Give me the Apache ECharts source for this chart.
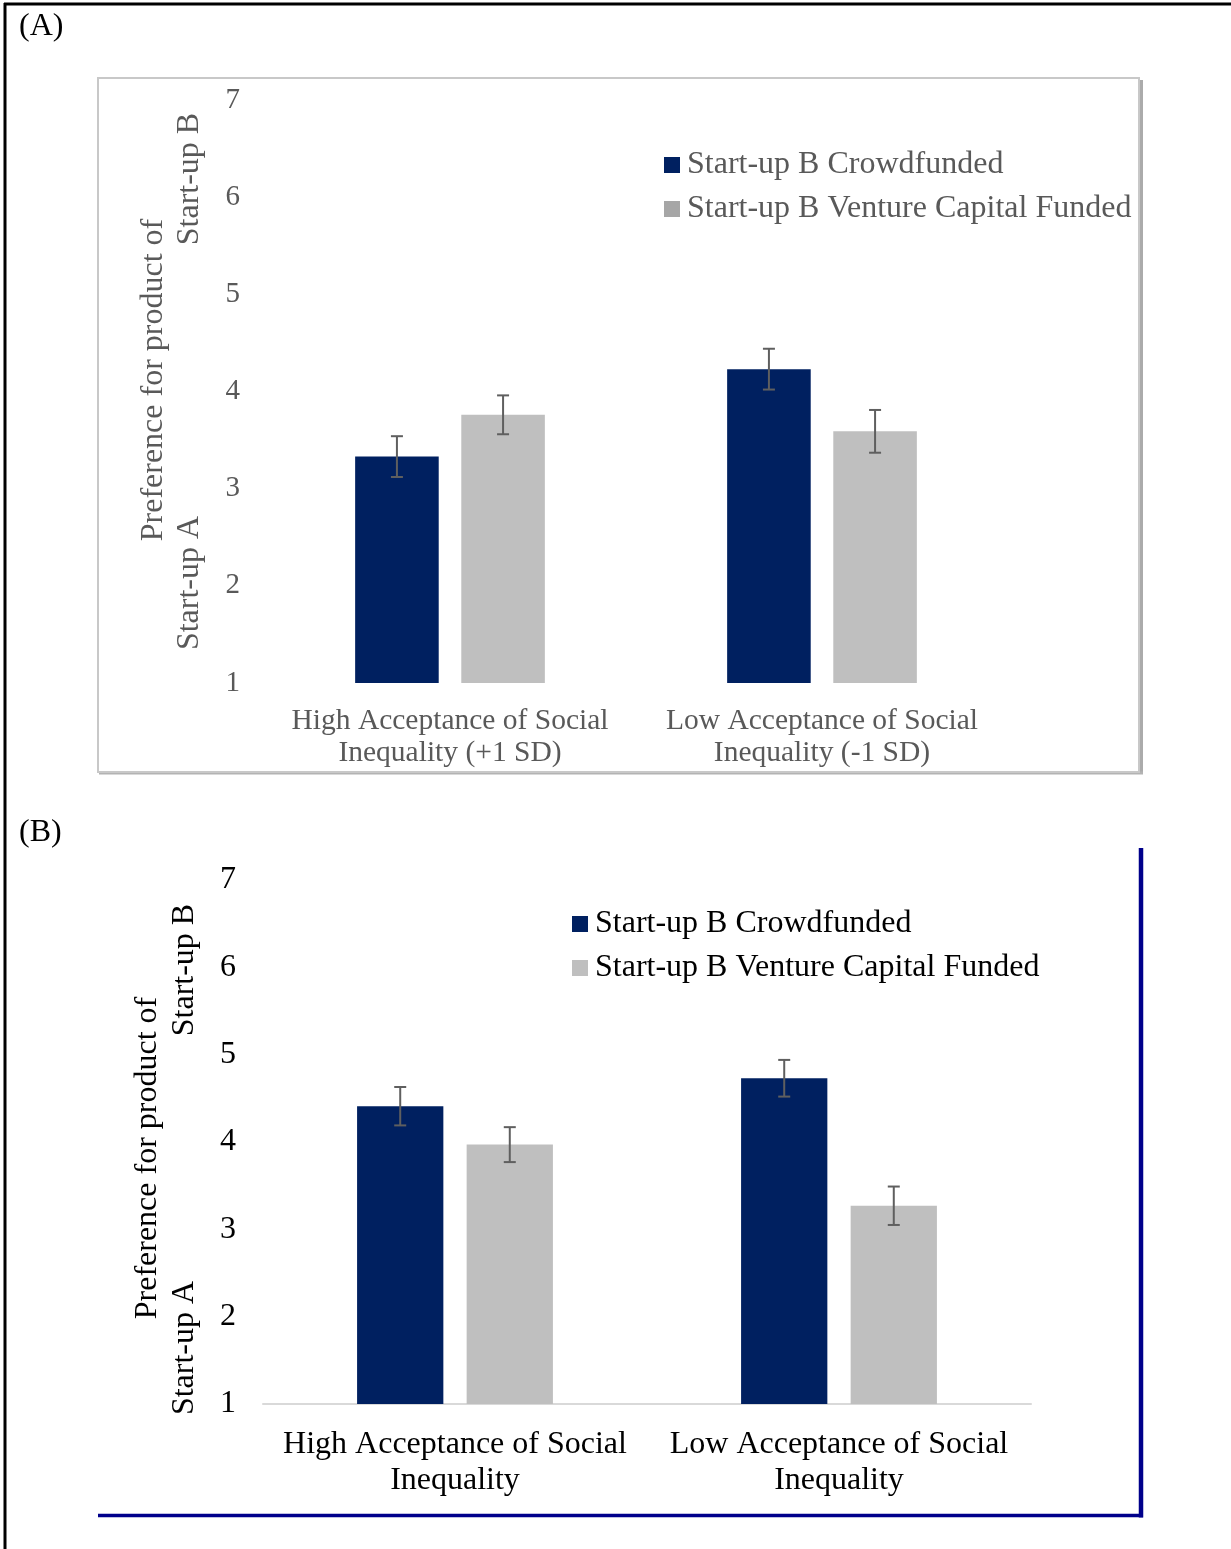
<!DOCTYPE html>
<html>
<head>
<meta charset="utf-8">
<script src="https://cdn.jsdelivr.net/npm/echarts@6/dist/echarts.min.js"></script>
<style>
  html, body { margin: 0; padding: 0; background: #fff; }
  #chart { width: 1231px; height: 1549px; }
</style>
</head>
<body>
<div id="chart"></div>
<script>
// ---- data ----
const seriesNames = ['Start-up B Crowdfunded', 'Start-up B Venture Capital Funded'];
const categoriesA = ['High Acceptance of Social\nInequality (+1 SD)', 'Low Acceptance of Social\nInequality (-1 SD)'];
const categoriesB = ['High Acceptance of Social\nInequality', 'Low Acceptance of Social\nInequality'];
const crowdA = [3.33, 4.23];
const vcA = [3.76, 3.59];
const crowdErrA = [0.21, 0.21];
const vcErrA = [0.20, 0.22];
const crowdB = [4.41, 4.73];
const vcB = [3.97, 3.27];
const crowdErrB = [0.22, 0.21];
const vcErrB = [0.20, 0.22];
const yMin = 1, yMax = 7, yStep = 1;

// ---- styling ----
const FONT = '"Liberation Serif", "Times New Roman", serif';
const NAVY = '#002060';
const GRAY = '#bfbfbf';
const CAT_GAP = 0.49;   // share of the band left empty
const BAR_GAP = 0.27;   // gap between the two bars, relative to bar width

function errRows(means, errs) {
  return means.map((m, i) => [i, m - errs[i], m + errs[i]]);
}

// Whisker drawn at the centre of the matching bar in its group
function errorRenderer(side) {
  return function (params, api) {
    const cat = api.value(0);
    const lo = api.coord([cat, api.value(1)]);
    const hi = api.coord([cat, api.value(2)]);
    const band = api.size([1, 0])[0];
    const barW = band * (1 - CAT_GAP) / (2 + BAR_GAP);
    const x = lo[0] + side * barW * (1 + BAR_GAP) / 2;
    const cap = 6;
    const st = { stroke: '#5f5f5f', lineWidth: 2 };
    return {
      type: 'group',
      children: [
        { type: 'line', shape: { x1: x, y1: hi[1], x2: x, y2: lo[1] }, style: st },
        { type: 'line', shape: { x1: x - cap, y1: hi[1], x2: x + cap, y2: hi[1] }, style: st },
        { type: 'line', shape: { x1: x - cap, y1: lo[1], x2: x + cap, y2: lo[1] }, style: st }
      ]
    };
  };
}

function barSeries(name, data, color, idx) {
  return {
    type: 'bar', name: name, data: data, xAxisIndex: idx, yAxisIndex: idx,
    barGap: (BAR_GAP * 100) + '%', barCategoryGap: (CAT_GAP * 100) + '%',
    itemStyle: { color: color }, clip: true, silent: true
  };
}

function errSeries(rows, side, idx) {
  return {
    type: 'custom', xAxisIndex: idx, yAxisIndex: idx, data: rows,
    encode: { x: 0, y: [1, 2] }, renderItem: errorRenderer(side), silent: true, z: 5
  };
}

function vText(text, x, y, size, color) {
  return {
    type: 'text', x: x, y: y, rotation: Math.PI / 2,
    style: { text: text, font: size + 'px ' + FONT, fill: color, align: 'center', verticalAlign: 'middle' }
  };
}

function hText(text, x, y, size, color) {
  return {
    type: 'text', x: x, y: y,
    style: { text: text, font: size + 'px ' + FONT, fill: color, align: 'left', verticalAlign: 'middle' }
  };
}

const chart = echarts.init(document.getElementById('chart'), null, { renderer: 'canvas' });

chart.setOption({
  animation: false,
  backgroundColor: '#ffffff',
  grid: [
    { left: 264, top: 100, width: 744, height: 583 },
    { left: 263, top: 880, width: 768, height: 524 }
  ],
  xAxis: [
    {
      type: 'category', gridIndex: 0, data: categoriesA,
      axisLine: { show: false }, axisTick: { show: false },
      axisLabel: { interval: 0, fontFamily: FONT, fontSize: 29.5, color: '#595959', lineHeight: 32, margin: 22 }
    },
    {
      type: 'category', gridIndex: 1, data: categoriesB,
      axisLine: { show: true, lineStyle: { color: '#d9d9d9', width: 2 } }, axisTick: { show: false },
      axisLabel: { interval: 0, fontFamily: FONT, fontSize: 32, color: '#000000', lineHeight: 36, margin: 23 }
    }
  ],
  yAxis: [
    {
      type: 'value', gridIndex: 0, min: yMin, max: yMax, interval: yStep,
      axisLine: { show: false }, axisTick: { show: false }, splitLine: { show: false },
      axisLabel: { fontFamily: FONT, fontSize: 29, color: '#595959', margin: 24, padding: [4, 0, 0, 0] }
    },
    {
      type: 'value', gridIndex: 1, min: yMin, max: yMax, interval: yStep,
      axisLine: { show: false }, axisTick: { show: false }, splitLine: { show: false },
      axisLabel: { fontFamily: FONT, fontSize: 32, color: '#000000', margin: 27, padding: [5, 0, 0, 0] }
    }
  ],
  legend: [
    {
      left: 664, top: 149, orient: 'vertical', itemGap: 12, padding: 0,
      icon: 'rect', itemWidth: 16, itemHeight: 16, selectedMode: false,
      textStyle: { fontFamily: FONT, fontSize: 32, color: '#595959', padding: [0, 0, 0, 2] },
      data: [
        { name: seriesNames[0], itemStyle: { color: NAVY } },
        { name: seriesNames[1], itemStyle: { color: '#a6a6a6' } }
      ]
    },
    {
      left: 572, top: 908, orient: 'vertical', itemGap: 12, padding: 0,
      icon: 'rect', itemWidth: 16, itemHeight: 16, selectedMode: false,
      textStyle: { fontFamily: FONT, fontSize: 32, color: '#000000', padding: [0, 0, 0, 2] },
      data: [
        { name: seriesNames[0], itemStyle: { color: NAVY } },
        { name: seriesNames[1], itemStyle: { color: GRAY } }
      ]
    }
  ],
  series: [
    barSeries(seriesNames[0], crowdA, NAVY, 0),
    barSeries(seriesNames[1], vcA, GRAY, 0),
    errSeries(errRows(crowdA, crowdErrA), -1, 0),
    errSeries(errRows(vcA, vcErrA), 1, 0),
    barSeries(seriesNames[0], crowdB, NAVY, 1),
    barSeries(seriesNames[1], vcB, GRAY, 1),
    errSeries(errRows(crowdB, crowdErrB), -1, 1),
    errSeries(errRows(vcB, vcErrB), 1, 1)
  ],
  graphic: [
    // page frame (top and left rules)
    { type: 'line', shape: { x1: 5, y1: 3, x2: 5, y2: 1549 }, style: { stroke: '#000', lineWidth: 3 } },
    { type: 'line', shape: { x1: 4, y1: 4, x2: 1231, y2: 4 }, style: { stroke: '#000', lineWidth: 3 } },
    // panel A frame with a soft drop shadow
    { type: 'line', shape: { x1: 1141.5, y1: 80, x2: 1141.5, y2: 774 }, style: { stroke: '#ababab', lineWidth: 3 } },
    { type: 'line', shape: { x1: 99, y1: 773, x2: 1143, y2: 773 }, style: { stroke: '#b3b3b3', lineWidth: 3 } },
    { type: 'rect', shape: { x: 98, y: 78, width: 1041, height: 694 }, style: { fill: 'none', stroke: '#c8c8c8', lineWidth: 2 } },
    // panel B frame (right and bottom rules)
    { type: 'line', shape: { x1: 1141, y1: 848, x2: 1141, y2: 1517.5 }, style: { stroke: '#00008b', lineWidth: 4.5 } },
    { type: 'line', shape: { x1: 98, y1: 1515.5, x2: 1143, y2: 1515.5 }, style: { stroke: '#00008b', lineWidth: 3.5 } },
    // panel letters
    hText('(A)', 19, 27, 32, '#000'),
    hText('(B)', 19, 833, 32, '#000'),
    // y-axis titles
    vText('Preference for product of', 154, 380, 32, '#595959'),
    vText('Start-up B', 190, 179, 32, '#595959'),
    vText('Start-up A', 190, 583, 32, '#595959'),
    vText('Preference for product of', 148, 1158, 32, '#000'),
    vText('Start-up B', 185, 970, 32, '#000'),
    vText('Start-up A', 185, 1348, 32, '#000')
  ]
});
</script>
</body>
</html>
